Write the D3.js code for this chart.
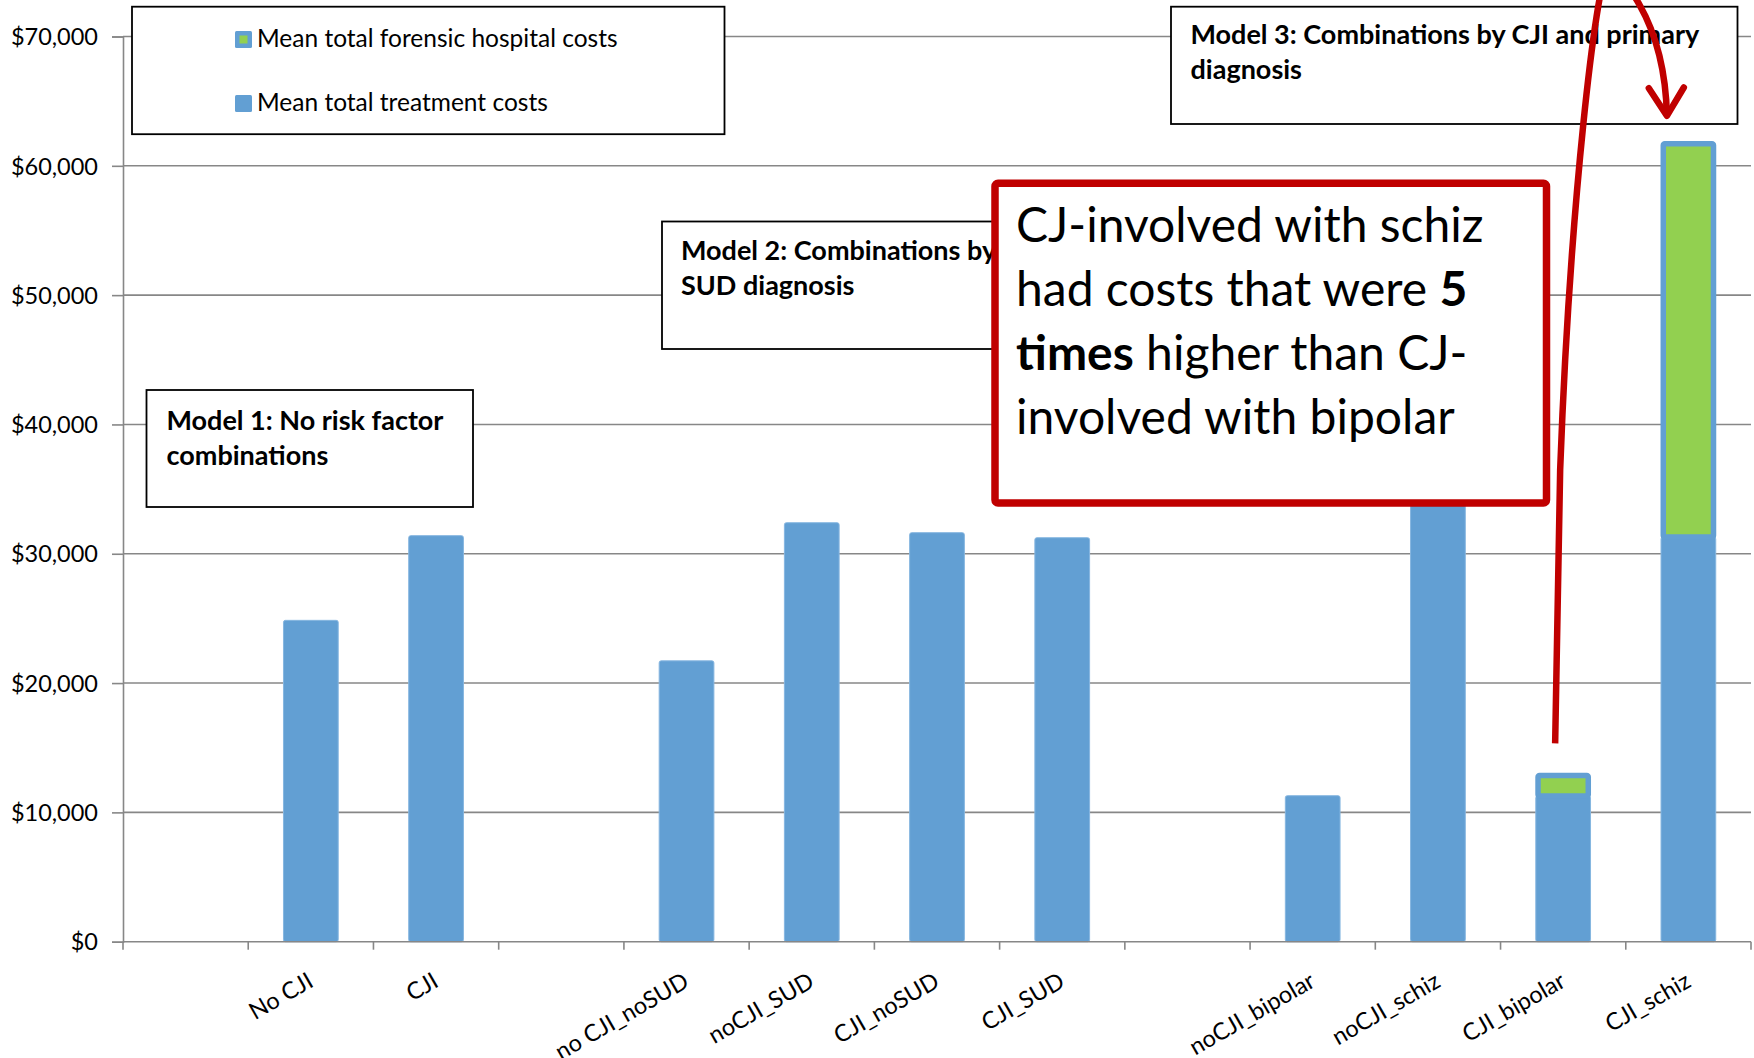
<!DOCTYPE html>
<html>
<head>
<meta charset="utf-8">
<script src="https://cdn.jsdelivr.net/npm/d3@7"></script>
<style>
  html, body { margin: 0; padding: 0; background: #ffffff; }
  svg { display: block; font-family: Lato, "Open Sans", sans-serif; }
</style>
</head>
<body>
<svg id="chart" width="1754" height="1058"></svg>
<script>
// Category slots along the x axis (empty strings are spacer slots between models)
const categoryLabels = ["", "No CJI", "CJI", "", "no CJI_noSUD", "noCJI_SUD", "CJI_noSUD", "CJI_SUD",
                        "", "noCJI_bipolar", "noCJI_schiz", "CJI_bipolar", "CJI_schiz"];
// Mean total treatment costs (USD)
const treatmentCosts = [null, 24850, 31400, null, 21720, 32400, 31630, 31240, null, 11290, 36500, 11270, 31300];
// Mean total forensic hospital costs (USD), stacked on top of treatment costs
const forensicCosts = [null, 0, 0, null, 0, 0, 0, 0, null, 0, 0, 1590, 30400];
// Y axis tick values
const yTickValues = [0, 10000, 20000, 30000, 40000, 50000, 60000, 70000];
const seriesNames = ["Mean total forensic hospital costs", "Mean total treatment costs"];

const BLUE = "#629fd3", BLUE_EDGE = "#86b6e0", GREEN = "#92d050", RED = "#c00000", GRID = "#878787";

const svg = d3.select("#chart");
const plot = { left: 123, right: 1751, top: 36.5, bottom: 941.7 };

const x = d3.scaleBand()
  .domain(d3.range(categoryLabels.length))
  .range([plot.left, plot.right])
  .paddingInner(0.555)
  .paddingOuter(0.2775);
const y = d3.scaleLinear().domain([0, 70000]).range([plot.bottom, plot.top]);
const step = x.step();
const bw = x.bandwidth();
const center = i => x(i) + bw / 2;

// Horizontal gridlines
svg.append("g").selectAll("line").data(yTickValues.filter(d => d > 0)).join("line")
  .attr("x1", plot.left).attr("x2", plot.right)
  .attr("y1", d => y(d)).attr("y2", d => y(d))
  .attr("stroke", GRID).attr("stroke-width", 1.6);

// Bars: treatment (bottom) and forensic (stacked above)
const rows = categoryLabels.map((label, i) => ({
  i, label, treat: treatmentCosts[i], foren: forensicCosts[i]
})).filter(d => d.treat != null);

const bars = svg.append("g");
bars.selectAll("rect.treat").data(rows).join("rect")
  .attr("class", "treat")
  .attr("x", d => x(d.i) + 0.5)
  .attr("width", bw - 1)
  .attr("y", d => y(d.treat))
  .attr("height", d => y(0) - y(d.treat))
  .attr("rx", 2)
  .attr("fill", BLUE).attr("stroke", BLUE_EDGE).attr("stroke-width", 1);

const fsw = 5.5;
bars.selectAll("rect.foren").data(rows.filter(d => d.foren > 0)).join("rect")
  .attr("class", "foren")
  .attr("x", d => x(d.i) + fsw / 2)
  .attr("width", bw - fsw)
  .attr("y", d => y(d.treat + d.foren))
  .attr("height", d => y(d.treat) - y(d.treat + d.foren))
  .attr("rx", 1.5)
  .attr("fill", GREEN).attr("stroke", BLUE).attr("stroke-width", fsw);

// Y axis
const yAxis = svg.append("g")
  .attr("transform", `translate(${plot.left},0)`)
  .call(d3.axisLeft(y).tickValues(yTickValues).tickFormat(d3.format("$,.0f")).tickSize(11).tickPadding(14));
yAxis.select(".domain").attr("stroke", GRID).attr("stroke-width", 1.6);
yAxis.selectAll(".tick line").attr("stroke", GRID).attr("stroke-width", 1.6);
yAxis.selectAll(".tick text").attr("font-size", 23.5).attr("fill", "#000")
  .attr("font-family", "Lato, sans-serif").attr("dy", "0.35em");

// X axis baseline and slot-boundary ticks
const xAxis = svg.append("g");
xAxis.append("line")
  .attr("x1", plot.left).attr("x2", plot.right)
  .attr("y1", y(0)).attr("y2", y(0))
  .attr("stroke", GRID).attr("stroke-width", 1.6);
const boundaries = d3.range(categoryLabels.length + 1).map(k => plot.left + k * step);
xAxis.selectAll("line.tk").data(boundaries).join("line")
  .attr("class", "tk")
  .attr("x1", d => d).attr("x2", d => d)
  .attr("y1", y(0)).attr("y2", y(0) + 8)
  .attr("stroke", GRID).attr("stroke-width", 1.6);
xAxis.selectAll("text").data(rows).join("text")
  .attr("transform", d => `translate(${center(d.i) + 4},${y(0) + 44}) rotate(-30)`)
  .attr("text-anchor", "end")
  .attr("font-size", 23.5)
  .attr("fill", "#000")
  .text(d => d.label);

// Boxed notes
function noteBox(g, bx, by, bw_, bh, lines, tx, ty, lh, size) {
  g.append("rect").attr("x", bx).attr("y", by).attr("width", bw_).attr("height", bh)
    .attr("fill", "#fff").attr("stroke", "#000").attr("stroke-width", 1.8);
  const t = g.append("text").attr("font-weight", 700).attr("font-size", size).attr("fill", "#000");
  lines.forEach((ln, k) => t.append("tspan").attr("x", tx).attr("y", ty + k * lh).text(ln));
}
const notes = svg.append("g");

// Legend
const legend = notes.append("g");
legend.append("rect").attr("x", 132).attr("y", 6.7).attr("width", 592.5).attr("height", 127.5)
  .attr("fill", "#fff").attr("stroke", "#000").attr("stroke-width", 1.8);
const legendItems = legend.selectAll("g.item").data(seriesNames).join("g")
  .attr("class", "item")
  .attr("transform", (d, k) => `translate(234,${30 + k * 64})`);
legendItems.append("rect").attr("x", 1).attr("y", 1).attr("width", 17).attr("height", 17).attr("rx", 1.5)
  .attr("fill", BLUE);
legendItems.filter((d, k) => k === 0).append("rect")
  .attr("x", 5.5).attr("y", 5.5).attr("width", 8).attr("height", 8).attr("fill", GREEN);
legendItems.append("text").attr("x", 23).attr("y", 17)
  .attr("font-size", 24.5).attr("fill", "#000").text(d => d);

noteBox(notes, 146.5, 390, 326.5, 117, ["Model 1: No risk factor", "combinations"], 166.5, 429.5, 35.5, 27);
noteBox(notes, 662, 221.5, 520, 127.5, ["Model 2: Combinations by", "SUD diagnosis"], 681, 259.5, 35.5, 27);
noteBox(notes, 1171, 6.7, 566.5, 117.3, ["Model 3: Combinations by CJI and primary", "diagnosis"], 1190.5, 44.3, 35, 27);

// Red callout
const callout = svg.append("g");
callout.append("rect").attr("x", 995).attr("y", 183.3).attr("width", 551.5).attr("height", 319.7)
  .attr("rx", 3).attr("fill", "#fff").attr("stroke", RED).attr("stroke-width", 7.5);
const ct = callout.append("text").attr("font-size", 48).attr("fill", "#000");
const calloutLines = [
  [["CJ-involved with schiz", 400]],
  [["had costs that were ", 400], ["5", 700]],
  [["times", 700], [" higher than CJ-", 400]],
  [["involved with bipolar", 400]]
];
calloutLines.forEach((parts, k) => {
  parts.forEach((p, j) => {
    const ts = ct.append("tspan").attr("font-weight", p[1]).text(p[0]);
    if (j === 0) ts.attr("x", 1016).attr("y", 241.7 + k * 64.1);
  });
});

// Red arrow: from the CJI_bipolar bar, looping above the chart, down onto CJI_schiz
const iBip = categoryLabels.indexOf("CJI_bipolar");
const iSch = categoryLabels.indexOf("CJI_schiz");
const start = [center(iBip) - 8, y(treatmentCosts[iBip] + forensicCosts[iBip]) - 32];
const tip = [center(iSch) - 21.5, y(treatmentCosts[iSch] + forensicCosts[iSch]) - 28];
const bend = [start[0] + 5, 470];
const apex = [start[0] + 52, -30];
const p = d3.path();
p.moveTo(start[0], start[1]);
p.lineTo(bend[0], bend[1]);
p.bezierCurveTo(bend[0] + 10, 200, apex[0] - 11, -15, apex[0], apex[1]);
p.bezierCurveTo(apex[0] + 8, -32, tip[0] - 2, 15, tip[0], tip[1]);
svg.append("path").attr("d", p.toString())
  .attr("fill", "none").attr("stroke", RED).attr("stroke-width", 6.5);

const dir = Math.atan2(tip[1] - 15, tip[0] - (tip[0] - 2));
const armLen = 33, spread = 32 * Math.PI / 180;
const armPts = [-1, 1].map(s => [
  tip[0] - armLen * Math.cos(dir + s * spread),
  tip[1] - armLen * Math.sin(dir + s * spread)
]);
svg.append("path")
  .attr("d", d3.line()([armPts[0], tip, armPts[1]]))
  .attr("fill", "none").attr("stroke", RED).attr("stroke-width", 6.5)
  .attr("stroke-linecap", "round").attr("stroke-linejoin", "round");
</script>
</body>
</html>
